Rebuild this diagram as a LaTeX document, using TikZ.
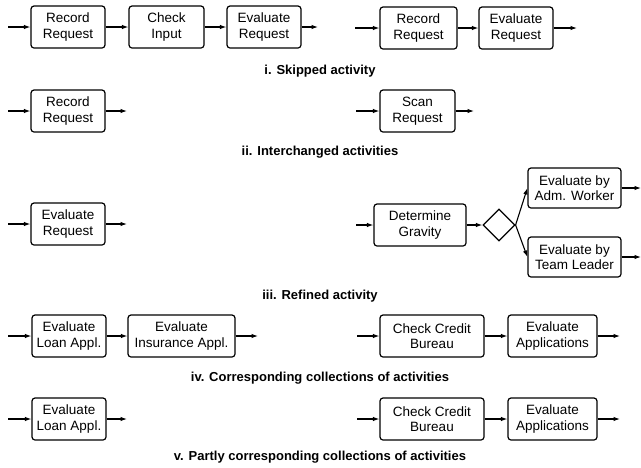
\documentclass[tikz,border=0pt]{standalone}
\usepackage{fontspec}
\setmainfont{Liberation Sans}
\usetikzlibrary{arrows.meta,shapes.geometric}
\begin{document}
\begin{tikzpicture}[x=1pt,y=-1pt,
  act/.style={draw,line width=1.2pt,rounded corners=3pt,minimum height=42pt,inner sep=1pt,align=center,font=\fontsize{13.5}{15.5}\selectfont},
  flow/.style={line width=1.1pt,-{Latex[length=6.5pt,width=4.5pt]}},
  captxt/.style={font=\fontsize{13}{15}\selectfont\bfseries}]
\useasboundingbox (0,0) rectangle (641,467);
% row i
\coordinate (i0) at (8,27);
\node[act,minimum width=74pt] (r1) at (68,27) {Record\\Request};
\node[act,minimum width=75pt] (c1) at (166.5,27) {Check\\Input};
\node[act,minimum width=74pt] (e1) at (264,27) {Evaluate\\Request};
\coordinate (i1) at (318,27);
\draw[flow] (i0) -- (r1);
\draw[flow] (r1) -- (c1);
\draw[flow] (c1) -- (e1);
\draw[flow] (e1) -- (i1);
\coordinate (j0) at (355,28);
\node[act,minimum width=77pt] (r2) at (418.5,28) {Record\\Request};
\node[act,minimum width=74pt] (e2) at (516,28) {Evaluate\\Request};
\coordinate (j1) at (577,28);
\draw[flow] (j0) -- (r2);
\draw[flow] (r2) -- (e2);
\draw[flow] (e2) -- (j1);
\node[captxt] (capi) at (320,71) {i. Skipped activity};
% row ii
\coordinate (k0) at (8,111);
\node[act,minimum width=74pt] (rr) at (68,111) {Record\\Request};
\coordinate (k1) at (127,111);
\draw[flow] (k0) -- (rr);
\draw[flow] (rr) -- (k1);
\coordinate (l0) at (356,111);
\node[act,minimum width=75pt] (sr) at (417.5,111) {Scan\\Request};
\coordinate (l1) at (474,111);
\draw[flow] (l0) -- (sr);
\draw[flow] (sr) -- (l1);
\node[captxt] (capii) at (320,152) {ii. Interchanged activities};
% row iii
\coordinate (m0) at (8,224);
\node[act,minimum width=74pt] (er) at (68,224) {Evaluate\\Request};
\coordinate (m1) at (127,224);
\draw[flow] (m0) -- (er);
\draw[flow] (er) -- (m1);
\coordinate (n0) at (356,225);
\node[act,minimum width=92pt] (dg) at (420,225) {Determine\\Gravity};
\node[draw,diamond,line width=1.2pt,minimum width=32pt,minimum height=32pt,inner sep=0pt] (dm) at (499,225) {};
\node[act,minimum width=93pt,minimum height=40pt] (aw) at (574.5,188) {Evaluate by\\Adm. Worker};
\node[act,minimum width=93pt,minimum height=40pt] (tl) at (574.5,257) {Evaluate by\\Team Leader};
\coordinate (n1) at (641,188);
\coordinate (n2) at (641,257);
\draw[flow] (n0) -- (dg);
\draw[flow] (dg) -- (dm);
\draw[flow] (dm.east) -- (aw.west);
\draw[flow] (dm.east) -- (tl.west);
\draw[flow] (aw) -- (n1);
\draw[flow] (tl) -- (n2);
\node[captxt] (capiii) at (320,296) {iii. Refined activity};
% row iv
\coordinate (o0) at (8,336);
\node[act,minimum width=74pt] (la) at (69,336) {Evaluate\\Loan Appl.};
\node[act,minimum width=107pt] (ia) at (181.5,336) {Evaluate\\Insurance Appl.};
\coordinate (o1) at (258,336);
\draw[flow] (o0) -- (la);
\draw[flow] (la) -- (ia);
\draw[flow] (ia) -- (o1);
\coordinate (p0) at (357,336);
\node[act,minimum width=104pt] (cb) at (432,336) {Check Credit\\Bureau};
\node[act,minimum width=89pt] (ea) at (552.5,336) {Evaluate\\Applications};
\coordinate (p1) at (620,336);
\draw[flow] (p0) -- (cb);
\draw[flow] (cb) -- (ea);
\draw[flow] (ea) -- (p1);
\node[captxt] (capiv) at (320,378) {iv. Corresponding collections of activities};
% row v
\coordinate (q0) at (8,419);
\node[act,minimum width=74pt] (lb) at (69,419) {Evaluate\\Loan Appl.};
\coordinate (q1) at (127,419);
\draw[flow] (q0) -- (lb);
\draw[flow] (lb) -- (q1);
\coordinate (s0) at (357,419);
\node[act,minimum width=104pt] (cc) at (432,419) {Check Credit\\Bureau};
\node[act,minimum width=89pt] (eb) at (552.5,419) {Evaluate\\Applications};
\coordinate (s1) at (620,419);
\draw[flow] (s0) -- (cc);
\draw[flow] (cc) -- (eb);
\draw[flow] (eb) -- (s1);
\node[captxt] (capv) at (320,457) {v. Partly corresponding collections of activities};
\end{tikzpicture}
\end{document}
